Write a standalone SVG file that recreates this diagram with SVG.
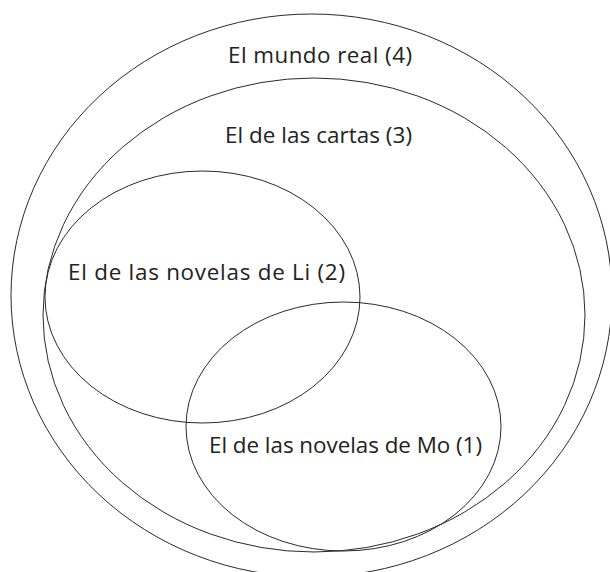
<svg xmlns="http://www.w3.org/2000/svg" width="610" height="572" viewBox="0 0 610 572">
<style>
.e{fill:none;stroke:#2a2a2a;stroke-width:1}
.t{font-family:"Open Sans","Noto Sans","Liberation Sans",sans-serif;font-size:22.4px;fill:#222;text-anchor:middle}
</style>
<rect width="610" height="572" fill="#fff"/>
<g id="n4"><ellipse class="e" cx="311.5" cy="295.5" rx="300.5" ry="281.5"/><text class="t" x="320" y="63" textLength="184" lengthAdjust="spacing">El mundo real (4)</text></g>
<g id="n3"><ellipse class="e" cx="314" cy="315" rx="271" ry="237"/><text class="t" x="318.5" y="143" textLength="187" lengthAdjust="spacing">El de las cartas (3)</text></g>
<g id="n2"><ellipse class="e" cx="202.5" cy="297" rx="157.5" ry="126"/><text class="t" x="206.5" y="280" textLength="277" lengthAdjust="spacing">El de las novelas de Li (2)</text></g>
<g id="n1"><ellipse class="e" cx="343.5" cy="426.5" rx="157.5" ry="124.5"/><text class="t" x="345.5" y="453" textLength="273" lengthAdjust="spacing">El de las novelas de Mo (1)</text></g>
<g id="connectors"/>
</svg>
